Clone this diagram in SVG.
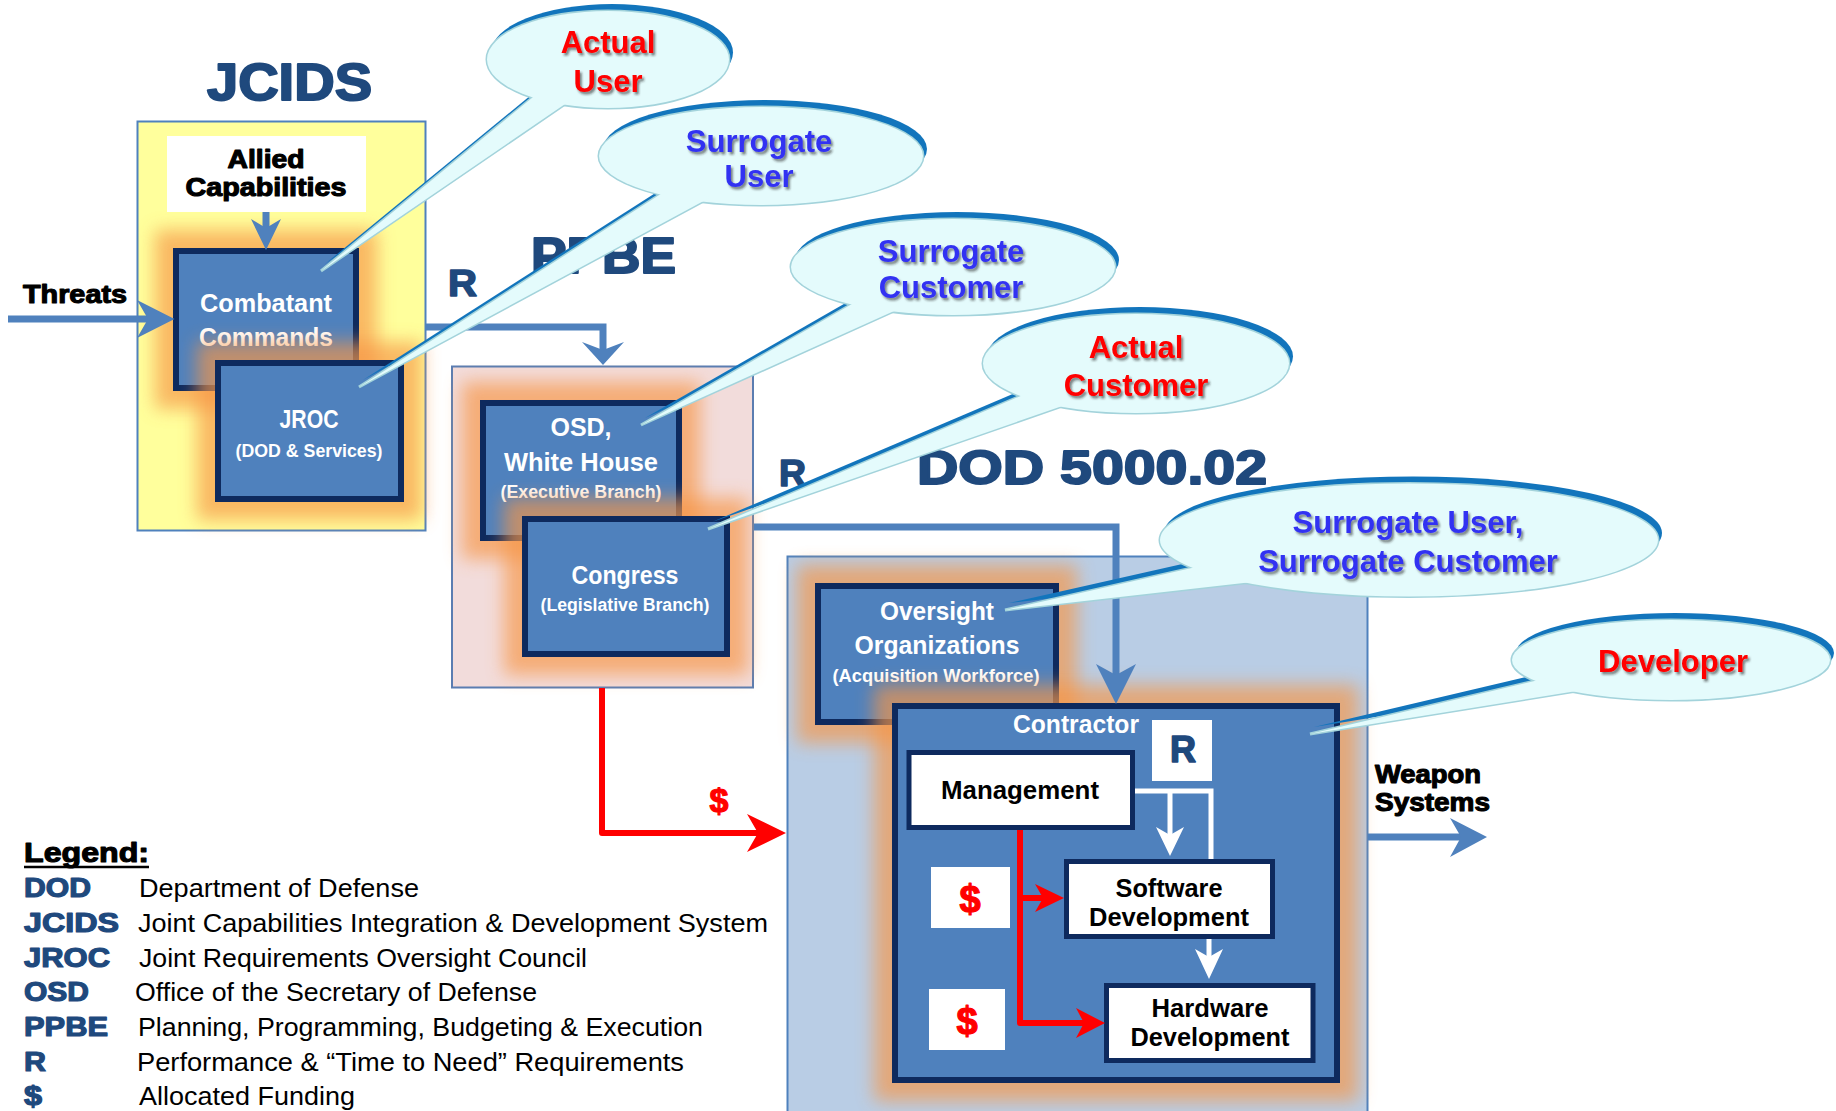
<svg xmlns="http://www.w3.org/2000/svg" width="1836" height="1111" viewBox="0 0 1836 1111">
<defs>
<filter id="blur" x="-30%" y="-30%" width="160%" height="160%">
<feGaussianBlur stdDeviation="9"/>
</filter>
<filter id="shadow" x="-10%" y="-20%" width="130%" height="150%">
<feDropShadow dx="2" dy="2.5" stdDeviation="1.2" flood-color="#222" flood-opacity="0.55"/>
</filter>
<style>
.heavy{font-family:"Liberation Sans",Arial,sans-serif;font-weight:700;stroke-linejoin:round}
.navy{fill:#1F497D;stroke:#1F497D}
.blk{fill:#000;stroke:#000;stroke-width:1.1}
.halo{fill:#F79646;opacity:0.68;filter:url(#blur)}
.box{fill:#4F81BD;stroke:#0E2A5E;stroke-width:6}
.wbox{fill:#fff;stroke:#0E2A5E;stroke-width:5}
.wt{fill:#fff;font-family:"Liberation Sans",Arial,sans-serif;font-weight:700;text-anchor:middle;font-size:25px}
.ws{fill:#fff;font-family:"Liberation Sans",Arial,sans-serif;font-weight:700;text-anchor:middle;font-size:17.5px}
.bt{fill:#000;font-family:"Liberation Sans",Arial,sans-serif;font-weight:700;text-anchor:middle;font-size:25px}
.cb{fill:none;stroke:#4F81BD;stroke-width:7}
.cr{fill:none;stroke:#FF0000;stroke-width:6;stroke-linejoin:round}
.cw{fill:none;stroke:#fff;stroke-width:5}
.ab{fill:#4F81BD}
.ar{fill:#FF0000}
.aw{fill:#fff}
.bd{fill:#1275BC}
.be{fill:#E4FBFC;stroke:#A3D3DB;stroke-width:3}
.bf{fill:#E4FBFC}
.bx{font-family:"Liberation Sans",Arial,sans-serif;font-weight:700;font-size:31px;text-anchor:middle;filter:url(#shadow)}
.red{fill:#FF0000}
.blue{fill:#3333F2}
.leg{font-family:"Liberation Sans",Arial,sans-serif;font-size:25px;fill:#000}
.abbr{font-size:27px;stroke-width:1.2}
</style>
</defs>
<rect width="1836" height="1111" fill="#fff"/>

<!-- titles -->
<g id="titles">
<text class="heavy navy" x="207" y="100" font-size="51" stroke-width="2" textLength="165" lengthAdjust="spacingAndGlyphs">JCIDS</text>
<text class="heavy navy" x="531" y="273" font-size="50" stroke-width="2" textLength="145" lengthAdjust="spacingAndGlyphs">PPBE</text>
<text class="heavy navy" x="917" y="484" font-size="48" stroke-width="2" textLength="350" lengthAdjust="spacingAndGlyphs">DOD 5000.02</text>
<text class="heavy navy" x="448" y="296" font-size="36" stroke-width="1.5" textLength="29" lengthAdjust="spacingAndGlyphs">R</text>
<text class="heavy navy" x="779" y="486" font-size="36" stroke-width="1.5" textLength="27" lengthAdjust="spacingAndGlyphs">R</text>
<text class="heavy blk" x="23" y="303" font-size="25" textLength="104" lengthAdjust="spacingAndGlyphs">Threats</text>
<text class="heavy blk" x="1375" y="783" font-size="25" textLength="106" lengthAdjust="spacingAndGlyphs">Weapon</text>
<text class="heavy blk" x="1375" y="811" font-size="25" textLength="115" lengthAdjust="spacingAndGlyphs">Systems</text>
<text class="heavy red" x="719" y="812" font-size="34" stroke="#FF0000" stroke-width="1.2" text-anchor="middle">$</text>
</g>

<!-- legend -->
<g id="legend">
<text class="heavy blk" x="24" y="862" font-size="27" textLength="125" lengthAdjust="spacingAndGlyphs">Legend:</text>
<line x1="24" y1="867" x2="149" y2="867" stroke="#000" stroke-width="2.5"/>
<text class="heavy navy abbr" x="24" y="897" textLength="67" lengthAdjust="spacingAndGlyphs">DOD</text>
<text class="heavy navy abbr" x="24" y="932" textLength="95" lengthAdjust="spacingAndGlyphs">JCIDS</text>
<text class="heavy navy abbr" x="24" y="967" textLength="86" lengthAdjust="spacingAndGlyphs">JROC</text>
<text class="heavy navy abbr" x="24" y="1001" textLength="65" lengthAdjust="spacingAndGlyphs">OSD</text>
<text class="heavy navy abbr" x="24" y="1036" textLength="84" lengthAdjust="spacingAndGlyphs">PPBE</text>
<text class="heavy navy abbr" x="24" y="1071" textLength="22" lengthAdjust="spacingAndGlyphs">R</text>
<text class="heavy navy abbr" x="24" y="1105" textLength="18" lengthAdjust="spacingAndGlyphs">$</text>
<text class="leg" x="139" y="897" textLength="280" lengthAdjust="spacingAndGlyphs">Department of Defense</text>
<text class="leg" x="138" y="932" textLength="630" lengthAdjust="spacingAndGlyphs">Joint Capabilities Integration &amp; Development System</text>
<text class="leg" x="139" y="967" textLength="448" lengthAdjust="spacingAndGlyphs">Joint Requirements Oversight Council</text>
<text class="leg" x="135" y="1001" textLength="402" lengthAdjust="spacingAndGlyphs">Office of the Secretary of Defense</text>
<text class="leg" x="138" y="1036" textLength="565" lengthAdjust="spacingAndGlyphs">Planning, Programming, Budgeting &amp; Execution</text>
<text class="leg" x="137" y="1071" textLength="547" lengthAdjust="spacingAndGlyphs">Performance &amp; “Time to Need” Requirements</text>
<text class="leg" x="139" y="1105" textLength="216" lengthAdjust="spacingAndGlyphs">Allocated Funding</text>
</g>

<!-- containers -->
<g id="jcids-area"><rect x="137.5" y="121.5" width="288" height="409" fill="#FFFF9C" stroke="#4F81BD" stroke-width="2"/></g>
<g id="ppbe-area"><rect x="452" y="366.5" width="301" height="321" fill="#F2DCDB" stroke="#5B7DB1" stroke-width="2"/></g>
<g id="dod-area"><rect x="787.5" y="556.5" width="580" height="560" fill="#B9CDE5" stroke="#4F81BD" stroke-width="2"/></g>

<g id="allied">
<rect x="167" y="136" width="199" height="76" fill="#fff"/>
<text class="heavy blk" x="266" y="168" font-size="25" text-anchor="middle" textLength="77" lengthAdjust="spacingAndGlyphs">Allied</text>
<text class="heavy blk" x="266" y="196" font-size="25" text-anchor="middle" textLength="161" lengthAdjust="spacingAndGlyphs">Capabilities</text>
</g>

<g id="combatant">
<rect class="halo" x="155" y="230" width="222" height="179"/>
<rect class="box" x="176" y="251" width="180" height="137"/>
<text class="wt" x="266" y="312" textLength="132" lengthAdjust="spacingAndGlyphs">Combatant</text>
<text class="wt" x="266" y="346" textLength="134" lengthAdjust="spacingAndGlyphs">Commands</text>
</g>
<g id="jroc">
<rect class="halo" x="197" y="342" width="225" height="178"/>
<rect class="box" x="218" y="363" width="183" height="136"/>
<text class="wt" x="309" y="428" textLength="59" lengthAdjust="spacingAndGlyphs">JROC</text>
<text class="ws" x="309" y="457" textLength="147" lengthAdjust="spacingAndGlyphs">(DOD &amp; Services)</text>
</g>
<g id="osd">
<rect class="halo" x="462" y="382" width="238" height="177"/>
<rect class="box" x="483" y="403" width="196" height="135"/>
<text class="wt" x="581" y="436">OSD,</text>
<text class="wt" x="581" y="471" textLength="154" lengthAdjust="spacingAndGlyphs">White House</text>
<text class="ws" x="581" y="498" textLength="161" lengthAdjust="spacingAndGlyphs">(Executive Branch)</text>
</g>
<g id="congress">
<rect class="halo" x="504" y="498" width="244" height="177"/>
<rect class="box" x="525" y="519" width="202" height="135"/>
<text class="wt" x="625" y="584" textLength="107" lengthAdjust="spacingAndGlyphs">Congress</text>
<text class="ws" x="625" y="611" textLength="169" lengthAdjust="spacingAndGlyphs">(Legislative Branch)</text>
</g>
<g id="oversight">
<rect class="halo" x="797" y="565" width="280" height="178"/>
<rect class="box" x="818" y="586" width="238" height="136"/>
<text class="wt" x="937" y="620" textLength="114" lengthAdjust="spacingAndGlyphs">Oversight</text>
<text class="wt" x="937" y="654" textLength="165" lengthAdjust="spacingAndGlyphs">Organizations</text>
<text class="ws" x="936" y="682" textLength="207" lengthAdjust="spacingAndGlyphs">(Acquisition Workforce)</text>
</g>
<g id="contractor">
<rect class="halo" x="874" y="685" width="484" height="416"/>
<rect class="box" x="895" y="706" width="442" height="374"/>
<text class="wt" x="1076" y="733" textLength="126" lengthAdjust="spacingAndGlyphs">Contractor</text>
<rect x="1152" y="720" width="60" height="61" fill="#fff"/>
<text class="heavy navy" x="1183" y="762" font-size="36" stroke-width="1.5" text-anchor="middle">R</text>
<rect x="931" y="867" width="79" height="61" fill="#fff"/>
<text class="heavy red" x="970" y="912" font-size="38" stroke="#FF0000" stroke-width="1.2" text-anchor="middle">$</text>
<rect x="929" y="989" width="76" height="61" fill="#fff"/>
<text class="heavy red" x="967" y="1034" font-size="38" stroke="#FF0000" stroke-width="1.2" text-anchor="middle">$</text>
</g>
<g id="management">
<rect class="wbox" x="909" y="752.5" width="223.5" height="75"/>
<text class="bt" x="1020" y="799" textLength="158" lengthAdjust="spacingAndGlyphs">Management</text>
</g>
<g id="software">
<rect class="wbox" x="1066.5" y="861.5" width="206" height="75"/>
<text class="bt" x="1169" y="897" textLength="107" lengthAdjust="spacingAndGlyphs">Software</text>
<text class="bt" x="1169" y="926" textLength="160" lengthAdjust="spacingAndGlyphs">Development</text>
</g>
<g id="hardware">
<rect class="wbox" x="1106.5" y="985.5" width="206.5" height="75"/>
<text class="bt" x="1210" y="1017" textLength="117" lengthAdjust="spacingAndGlyphs">Hardware</text>
<text class="bt" x="1210" y="1046" textLength="159" lengthAdjust="spacingAndGlyphs">Development</text>
</g>

<!-- connectors -->
<g id="connectors">
<path class="cb" d="M8,319 H150"/>
<polygon class="ab" points="174.5,319 137,300 148,319 137,338"/>
<path class="cb" d="M266,212 V230"/>
<polygon class="ab" points="266,250 251,219 266,228 281,219"/>
<path class="cb" d="M425,327 H603 V352"/>
<polygon class="ab" points="603,365 582,342 603,350 624,342"/>
<path class="cb" d="M754,527 H1116 V676"/>
<polygon class="ab" points="1116,704 1096,664 1116,675 1136,664"/>
<path class="cb" d="M1368,837 H1462"/>
<polygon class="ab" points="1487,837 1450,818 1461,837 1450,857"/>
<path class="cr" d="M602,688 V833 H760"/>
<polygon class="ar" points="786,833 747,814 758,833 747,852"/>
<path class="cr" d="M1020,830 V1023 H1086"/>
<polygon class="ar" points="1105,1023 1076,1008 1084,1023 1076,1038"/>
<path class="cr" d="M1020,898 H1045"/>
<polygon class="ar" points="1064,898 1035,884 1043,898 1035,912"/>
<path class="cw" d="M1135,791 H1211 V859"/>
<path class="cw" d="M1170,791 V836"/>
<polygon class="aw" points="1170,856 1156,827 1170,835 1184,827"/>
<path class="cw" d="M1209,939 V958"/>
<polygon class="aw" points="1209,979 1195,949 1209,957 1223,949"/>
</g>

<!-- callouts -->
<g id="callout-actual-user">
<g transform="translate(4,-7)"><ellipse class="bd" cx="608" cy="59.5" rx="121" ry="48.5"/><polygon class="bd" points="538,93 571,100 321,271"/></g>
<ellipse class="be" cx="608" cy="59.5" rx="121" ry="48.5"/><polygon class="be" points="538,93 571,100 321,271"/>
<ellipse class="bf" cx="608" cy="59.5" rx="121" ry="48.5"/><polygon class="bf" points="538,93 571,100 321,271"/>
<text class="bx red" x="608" y="53">Actual</text>
<text class="bx red" x="608" y="92">User</text>
</g>
<g id="callout-surrogate-user">
<g transform="translate(4,-7)"><ellipse class="bd" cx="761" cy="156" rx="162" ry="49"/><polygon class="bd" points="667,190 711,197 359,387"/></g>
<ellipse class="be" cx="761" cy="156" rx="162" ry="49"/><polygon class="be" points="667,190 711,197 359,387"/>
<ellipse class="bf" cx="761" cy="156" rx="162" ry="49"/><polygon class="bf" points="667,190 711,197 359,387"/>
<text class="bx blue" x="759" y="152">Surrogate</text>
<text class="bx blue" x="759" y="187">User</text>
</g>
<g id="callout-surrogate-customer">
<g transform="translate(4,-7)"><ellipse class="bd" cx="953" cy="267" rx="162" ry="48"/><polygon class="bd" points="859,300 903,307 641,425"/></g>
<ellipse class="be" cx="953" cy="267" rx="162" ry="48"/><polygon class="be" points="859,300 903,307 641,425"/>
<ellipse class="bf" cx="953" cy="267" rx="162" ry="48"/><polygon class="bf" points="859,300 903,307 641,425"/>
<text class="bx blue" x="951" y="262">Surrogate</text>
<text class="bx blue" x="951" y="298">Customer</text>
</g>
<g id="callout-actual-customer">
<g transform="translate(4,-7)"><ellipse class="bd" cx="1136" cy="363.5" rx="153" ry="49.5"/><polygon class="bd" points="1030,392 1071,403 708,529"/></g>
<ellipse class="be" cx="1136" cy="363.5" rx="153" ry="49.5"/><polygon class="be" points="1030,392 1071,403 708,529"/>
<ellipse class="bf" cx="1136" cy="363.5" rx="153" ry="49.5"/><polygon class="bf" points="1030,392 1071,403 708,529"/>
<text class="bx red" x="1136" y="358">Actual</text>
<text class="bx red" x="1136" y="396">Customer</text>
</g>
<g id="callout-surrogate-user-customer">
<g transform="translate(4,-7)"><ellipse class="bd" cx="1409" cy="540" rx="249" ry="56.5"/><polygon class="bd" points="1205,565 1270,580 1005,610"/></g>
<ellipse class="be" cx="1409" cy="540" rx="249" ry="56.5"/><polygon class="be" points="1205,565 1270,580 1005,610"/>
<ellipse class="bf" cx="1409" cy="540" rx="249" ry="56.5"/><polygon class="bf" points="1205,565 1270,580 1005,610"/>
<text class="bx blue" x="1408" y="533">Surrogate User,</text>
<text class="bx blue" x="1408" y="572">Surrogate Customer</text>
</g>
<g id="callout-developer">
<g transform="translate(4,-7)"><ellipse class="bd" cx="1671" cy="660" rx="159" ry="40"/><polygon class="bd" points="1547,678 1589,689 1310,734"/></g>
<ellipse class="be" cx="1671" cy="660" rx="159" ry="40"/><polygon class="be" points="1547,678 1589,689 1310,734"/>
<ellipse class="bf" cx="1671" cy="660" rx="159" ry="40"/><polygon class="bf" points="1547,678 1589,689 1310,734"/>
<text class="bx red" x="1673" y="672">Developer</text>
</g>
</svg>
